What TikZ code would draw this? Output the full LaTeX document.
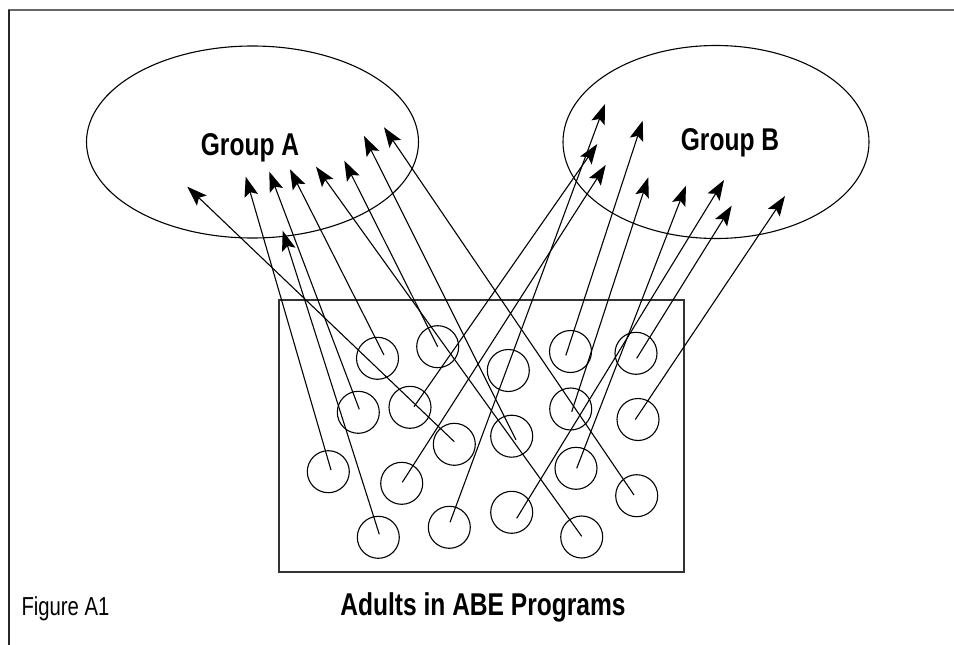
\documentclass[tikz,border=0pt]{standalone}
\usepackage{fontspec}
\setmainfont{Liberation Sans}
\newfontfamily\condfont[FakeStretch=0.78]{Liberation Sans}
\usetikzlibrary{shapes.geometric,arrows.meta,calc}

\begin{document}
\begin{tikzpicture}[x=1pt, y=-1pt, line width=1.1pt,
    group/.style={ellipse, draw, inner sep=0pt},
    person/.style={circle, draw, minimum size=42pt, inner sep=0pt},
    title/.style={font=\condfont\bfseries\fontsize{31.5}{33}\selectfont, anchor=base, inner sep=0pt},
    link/.style={-{Stealth[length=20pt, width=14pt, inset=4pt]}}]
  \useasboundingbox (0,0) rectangle (954,645);
  \draw[line width=2pt, black!60] (8,10) -- (954,10);
  \draw[line width=2pt, black!85] (8.5,10) -- (8.5,645);

  \node[group, minimum width=332pt, minimum height=192pt] (groupA) at (252.5,142) {};
  \node[group, minimum width=306pt, minimum height=193pt] (groupB) at (716,142) {};
  \node[title] (labelA) at (250,155) {Group A};
  \node[title] (labelB) at (730,150) {Group B};

  \node[draw=black!80, line width=1.3pt, minimum width=405pt, minimum height=272pt,
        inner sep=0pt] (programs) at (481.5,436) {};
  \node[title] (caption) at (483,615) {Adults in ABE Programs};
  \node[font=\condfont\fontsize{26}{28}\selectfont, anchor=base west, inner sep=0pt]
        (figure) at (21,615) {Figure A1};

  % adults in the programs
  \foreach \n/\x/\y in {1/377.5/358.3, 2/437.7/346.7, 3/358.3/412.3, 4/410/407.3,
      5/454.3/444.3, 6/328.3/471.7, 7/401.7/483.3, 8/378.3/537.3, 9/449.3/527.3,
      10/508.3/370.5, 11/570.5/351.5, 12/636/353.3, 13/570.7/409, 14/511.7/436.2,
      15/638/419.5, 16/576/468.3, 17/636.7/495.7, 18/511.7/512.3, 19/581.7/537}
    \node[person] (p\n) at (\x,\y) {};

  % arrow tips in the two groups
  \foreach \n/\x/\y in {1/187.3/186.7, 2/245.7/176.7, 3/269.3/171.7, 4/282.7/230.7,
      5/290/169.3, 6/316/166.7, 7/344.3/160.7, 8/364/136, 9/384/127.3}
    \coordinate (tA\n) at (\x,\y);
  \foreach \n/\x/\y in {1/597.3/144, 2/605/104, 3/605.7/165, 4/642.7/120.7,
      5/648.3/177.3, 6/686/185.7, 7/724/180, 8/731.7/205.7, 9/785/196}
    \coordinate (tB\n) at (\x,\y);

  \foreach \p/\dx/\dy/\t in {5/0/-2.6/tA1, 6/2.7/-1.7/tA2, 3/1/-3/tA3, 8/1/-3/tA4,
      1/6.5/-3.3/tA5, 19/0/-0.7/tA6, 2/0/0/tA7, 14/4.3/3.6/tA8, 17/-2.7/-0.7/tA9,
      4/4/-0.6/tB1, 9/0.7/-5/tB2, 7/0.6/-1/tB3, 11/-4.7/4/tB4, 13/1/2.7/tB5,
      16/0.7/0/tB6, 18/5/6/tB7, 12/0.7/5/tB8, 15/-2.7/0/tB9}
    \draw[link] ($(p\p)+(\dx,\dy)$) -- (\t);
\end{tikzpicture}
\end{document}
